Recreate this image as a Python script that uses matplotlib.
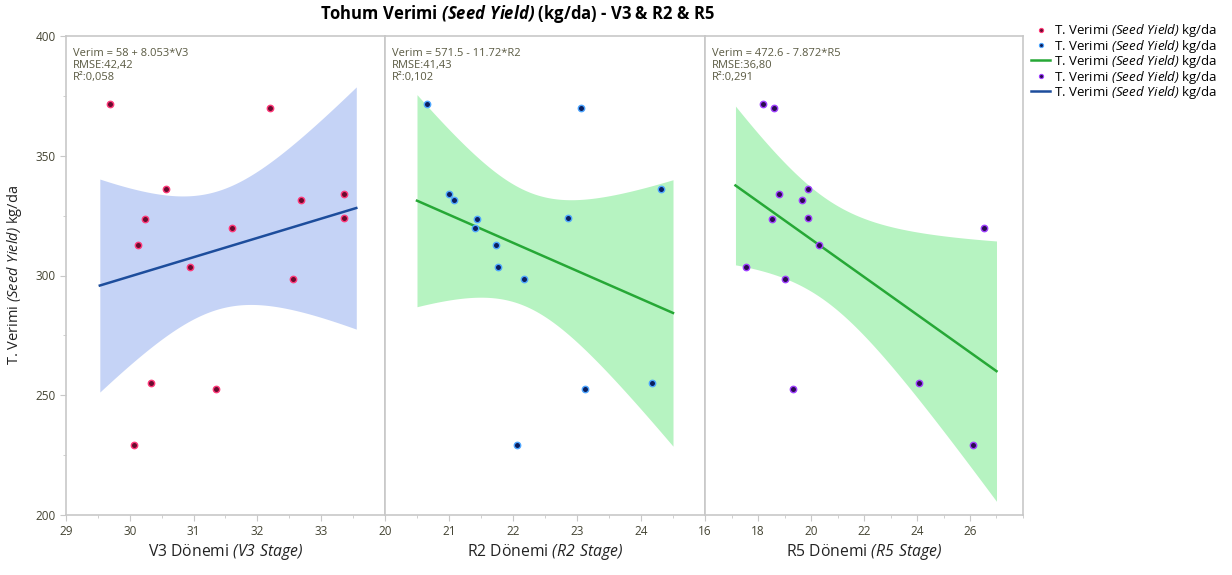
import numpy as np
import matplotlib.pyplot as plt
from matplotlib.lines import Line2D
from matplotlib.ticker import MultipleLocator

plt.rcParams['font.family'] = ['Open Sans', 'DejaVu Sans']
# italik parcalar icin: \mathsf -> italik, \mathbf -> kalin italik
plt.rcParams['mathtext.fontset'] = 'custom'
plt.rcParams['mathtext.rm'] = 'Open Sans'
plt.rcParams['mathtext.sf'] = 'Open Sans:italic'
plt.rcParams['mathtext.bf'] = 'Open Sans:italic:bold'

# tohum verimi (kg/da), ayni 14 parsel her donemde
verim = [371.5, 370.1, 336.2, 334.0, 331.4, 323.6, 324.0, 320.0, 312.6, 303.4, 298.5, 255.0, 252.5, 229.2]
v3 = [29.69, 32.19, 30.57, 33.35, 32.69, 30.24, 33.36, 31.60, 30.13, 30.95, 32.56, 30.33, 31.35, 30.07]
r2 = [20.66, 23.06, 24.32, 21.00, 21.08, 21.43, 22.86, 21.40, 21.73, 21.76, 22.17, 24.17, 23.12, 22.07]
r5 = [18.17, 18.60, 19.89, 18.80, 19.66, 18.51, 19.89, 26.52, 20.31, 17.56, 19.02, 24.09, 19.31, 26.11]

# regresyon sonuclari (grafikteki denklemler)
intercepts = [58.0, 571.5, 472.6]
slopes = [8.053, -11.72, -7.872]
rmse = [42.42, 41.43, 36.80]
r2_text = ['0,058', '0,102', '0,291']
stage_names = ['V3', 'R2', 'R5']
fit_ranges = [(29.53, 33.55), (20.5, 24.5), (17.15, 27.0)]
x_limits = [(29, 34), (20, 25), (16, 28)]
x_ticks = [[29, 30, 31, 32, 33], [20, 21, 22, 23, 24], [16, 18, 20, 22, 24, 26]]
t_crit = 2.179  # t(0.975, 12)

point_face = ['#6a0b2e', '#0b1f5e', '#2a0b50']
point_edge = ['#ff3a7a', '#4ea6ff', '#a040ff']
band_colors = ['#c5d3f6', '#b6f3c1', '#b6f3c1']
line_colors = ['#1d4d9c', '#26a836', '#26a836']
grey = '#c8c8c8'
txt = '#5a5a42'

fig = plt.figure(figsize=(12.32, 5.75), dpi=100)
lefts = [66, 385, 705]
rights = [385, 705, 1023]
bottom = 1 - 515 / 575
height = (515 - 36) / 575

xs = [v3, r2, r5]
axes = []
for i in range(3):
    ax = fig.add_axes([lefts[i] / 1232, bottom, (rights[i] - lefts[i]) / 1232, height])
    axes.append(ax)
    x = np.array(xs[i])
    y = np.array(verim)
    n = len(x)
    xx = np.linspace(fit_ranges[i][0], fit_ranges[i][1], 200)
    yy = intercepts[i] + slopes[i] * xx
    se = rmse[i] * np.sqrt(1 / n + (xx - x.mean()) ** 2 / np.sum((x - x.mean()) ** 2))
    ax.fill_between(xx, yy - t_crit * se, yy + t_crit * se, color=band_colors[i], lw=0)
    ax.plot(xx, yy, color=line_colors[i], lw=1.8)
    ax.plot(x, y, 'o', ms=4.6, mfc=point_face[i], mec=point_edge[i], mew=1.0, ls='none')

    ax.set_xlim(*x_limits[i])
    ax.set_ylim(200, 400)
    ax.set_xticks(x_ticks[i])
    ax.xaxis.set_minor_locator(MultipleLocator(0.5 if i < 2 else 1))
    ax.yaxis.set_major_locator(MultipleLocator(50))
    ax.yaxis.set_minor_locator(MultipleLocator(25))
    for s in ax.spines.values():
        s.set_color(grey)
        s.set_linewidth(1.2)
    ax.tick_params(which='both', color=grey, labelcolor='#444433', labelsize=8.5)
    ax.tick_params(which='major', length=4)
    ax.tick_params(which='minor', length=2.5)
    ax.tick_params(axis='x', pad=3)
    if i > 0:
        ax.tick_params(axis='y', which='both', left=False, labelleft=False)

    sign = '+' if slopes[i] > 0 else '-'
    eq = 'Verim = %g %s %g*%s' % (intercepts[i], sign, abs(slopes[i]), stage_names[i])
    ax.text(0.022, 0.975, eq + '\nRMSE:%s\nR²:%s' % (('%.2f' % rmse[i]).replace('.', ','), r2_text[i]),
            transform=ax.transAxes, ha='left', va='top', fontsize=8, color=txt, linespacing=1.15)
    ax.set_xlabel(r'%s Dönemi $\mathsf{(%s\ Stage)}$' % (stage_names[i], stage_names[i]),
                  fontsize=11.3, color='#222222', labelpad=3)

axes[0].set_ylabel(r'T. Verimi $\mathsf{(Seed\ Yield)}$ kg/da', fontsize=10.5, color='#222222', labelpad=8)

fig.text(517 / 1232, 1 - 14 / 575, r'Tohum Verimi $\mathbf{(Seed\ Yield)}$ (kg/da) - V3 & R2 & R5',
         fontsize=12, weight='bold', ha='center', va='center')

lab = r'T. Verimi $\mathsf{(Seed\ Yield)}$ kg/da'
handles = [
    Line2D([], [], marker='o', ls='none', ms=3, mfc=point_face[0], mec=point_edge[0], mew=0.8),
    Line2D([], [], marker='o', ls='none', ms=3, mfc=point_face[1], mec=point_edge[1], mew=0.8),
    Line2D([], [], color=line_colors[1], lw=1.8),
    Line2D([], [], marker='o', ls='none', ms=3, mfc=point_face[2], mec=point_edge[2], mew=0.8),
    Line2D([], [], color=line_colors[0], lw=1.8),
]
fig.legend(handles, [lab] * 5, loc='upper left', bbox_to_anchor=(1026 / 1232, 1 - 17 / 575), frameon=False,
           fontsize=9.5, handlelength=1.4, handletextpad=0.3, labelspacing=-0.12, borderaxespad=0.0)

fig.savefig('out.png', dpi=100)
